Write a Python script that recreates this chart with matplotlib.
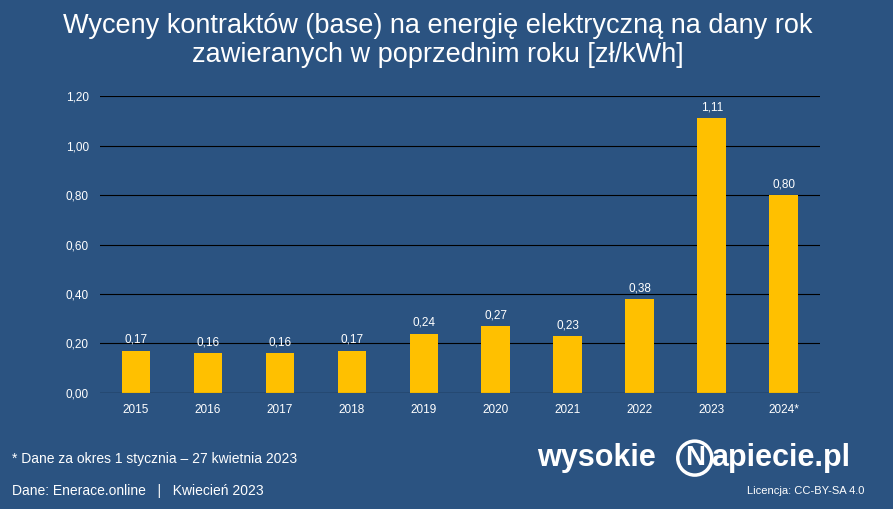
import matplotlib.pyplot as plt
import matplotlib.patches as mpatches

plt.rcParams["font.family"] = "Liberation Sans"

years = ["2015", "2016", "2017", "2018", "2019", "2020", "2021", "2022", "2023", "2024*"]
prices = [0.17, 0.16, 0.16, 0.17, 0.24, 0.27, 0.23, 0.38, 1.11, 0.80]
yticks = [0.0, 0.2, 0.4, 0.6, 0.8, 1.0, 1.2]

BG = "#2B5381"
BAR = "#FFC000"

fig = plt.figure(figsize=(8.93, 5.09), dpi=100, facecolor=BG)
ax = fig.add_axes([0.112, 0.228, 0.806, 0.583], facecolor=BG)

x = range(len(years))
ax.bar(x, prices, width=0.4, color=BAR, zorder=3)
for i, v in enumerate(prices):
    ax.text(i, v + 0.02, f"{v:.2f}".replace(".", ","), ha="center", va="bottom",
            color="white", fontsize=8.5)

ax.set_ylim(0, 1.2)
ax.set_xlim(-0.5, len(years) - 0.5)
ax.set_yticks(yticks)
ax.set_yticklabels([f"{t:.2f}".replace(".", ",") for t in yticks], color="white", fontsize=8.5)
ax.set_xticks(list(x))
ax.set_xticklabels(years, color="white", fontsize=8.5)
ax.tick_params(length=0, pad=8)
ax.grid(axis="y", color="black", linewidth=0.8, zorder=0)
for s in ax.spines.values():
    s.set_visible(False)
ax.axhline(0, color="black", linewidth=0.8, zorder=4)

fig.text(0.49, 0.975, "Wyceny kontraktów (base) na energię elektryczną na dany rok\nzawieranych w poprzednim roku [zł/kWh]",
         ha="center", va="top", color="white", fontsize=19.5, linespacing=1.15)

fig.text(0.013, 0.098, "* Dane za okres 1 stycznia – 27 kwietnia 2023", color="white", fontsize=10, va="center")
fig.text(0.013, 0.035, "Dane: Enerace.online   |   Kwiecień 2023", color="white", fontsize=10, va="center")

# logo
fig.text(0.602, 0.1, "wysokie", color="white", fontsize=22, fontweight="bold", va="center", ha="left")
circ = mpatches.Circle((0.778 * 893, 0.1 * 509), 17, transform=None, facecolor=BG,
                       edgecolor="white", linewidth=2.5)
fig.patches.append(circ)
fig.text(0.778, 0.1, "N", color="white", fontsize=20, fontweight="bold", va="center", ha="center")
fig.text(0.796, 0.1, "apiecie.pl", color="white", fontsize=22, fontweight="bold", va="center", ha="left")
fig.text(0.968, 0.035, "Licencja: CC-BY-SA 4.0", color="white", fontsize=8, va="center", ha="right")

fig.savefig("out.png", dpi=100, facecolor=BG)
